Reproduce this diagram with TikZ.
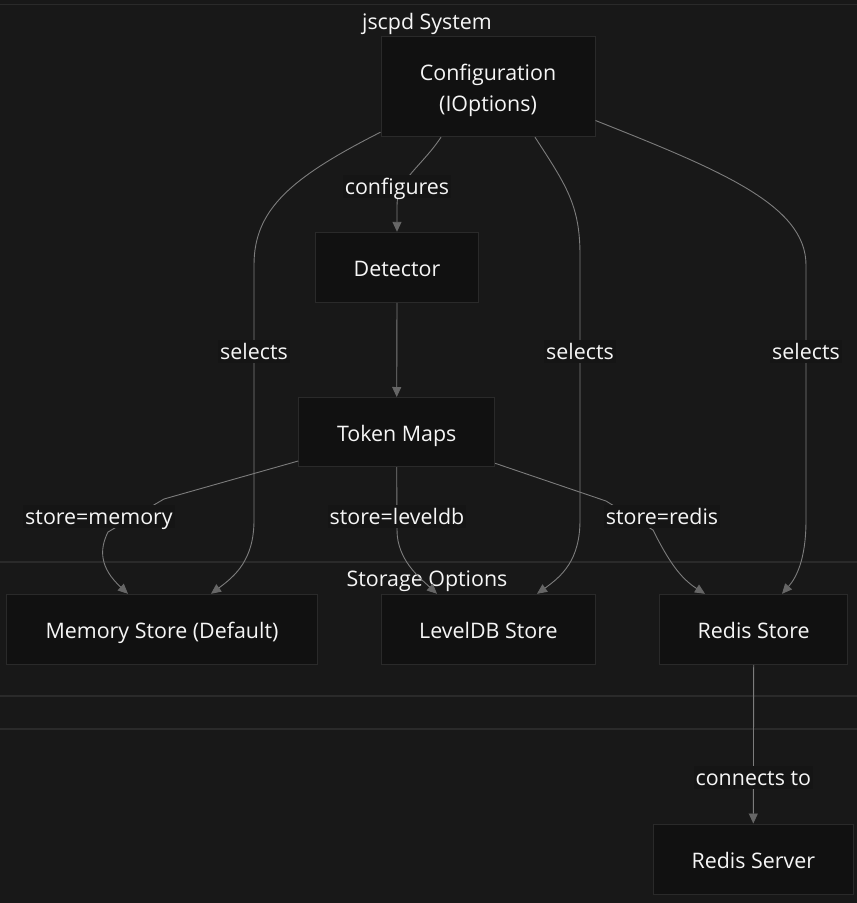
\documentclass[tikz,border=0pt]{standalone}
\usepackage{fontspec}
\setmainfont{Open Sans}
\usetikzlibrary{arrows.meta,calc}
\definecolor{bg}{HTML}{181818}
\definecolor{nodefill}{HTML}{111111}
\definecolor{nodeborder}{HTML}{2A2A2A}
\definecolor{clusterline}{HTML}{2A2A2A}
\definecolor{edgec}{HTML}{7C7C7C}
\definecolor{arrowc}{HTML}{666666}
\definecolor{txt}{HTML}{F6F6F6}
\definecolor{lblfill}{HTML}{151515}
\begin{document}
\begin{tikzpicture}[x=1pt,y=-1pt,
  box/.style={draw=nodeborder, fill=nodefill, line width=1pt, text=txt,
    font=\fontsize{21.4}{31}\selectfont, inner sep=0pt, align=center,
    text height=20pt, text depth=1pt},
  lbl/.style={fill=lblfill, text=txt, font=\fontsize{21.4}{24}\selectfont, inner sep=2pt,
    text height=18pt, text depth=1pt},
  ctitle/.style={text=txt, font=\fontsize{21.4}{24}\selectfont, inner sep=0pt},
  edge/.style={draw=edgec, line width=0.9pt, -{Triangle[length=10pt,width=9pt,color=arrowc]}},
  cline/.style={draw=clusterline, line width=1.2pt}]
\fill[bg] (0,0) rectangle (857,903);
\useasboundingbox (0,0) rectangle (857,903);
% cluster borders
\draw[cline] (0,4.3) -- (857,4.3);
\draw[cline] (0,562) -- (857,562);
\draw[cline] (0,696) -- (857,696);
\draw[cline] (0,729) -- (857,729);
% cluster titles
\node[ctitle] (tsys) at (427,23.5) {jscpd System};
\node[ctitle] (tsto) at (427,581.5) {Storage Options};
% nodes
\node[box, minimum width=214pt, minimum height=100pt, text height=51pt] (cfg) at (488,86.7) {Configuration\\(IOptions)};
\node[box, minimum width=163pt, minimum height=70pt] (det) at (397,267.3) {Detector};
\node[box, minimum width=196pt, minimum height=69pt] (tok) at (396.7,432) {Token Maps};
\node[box, minimum width=311pt, minimum height=70pt] (mem) at (162,629.3) {Memory Store (Default)};
\node[box, minimum width=214pt, minimum height=70pt] (lvl) at (488.4,629.3) {LevelDB Store};
\node[box, minimum width=188pt, minimum height=70pt] (rst) at (753.7,629.3) {Redis Store};
\node[box, minimum width=200pt, minimum height=70pt] (rsv) at (753.3,859) {Redis Server};
% edges
\draw[edge] ([xshift=-47pt]cfg.south) .. controls (422,166) and (397,180) .. (397,205) -- (det.north);
\draw[edge] (det.south) -- (tok.north);
\draw[edge] ([yshift=5pt]cfg.south west) .. controls (290,178) and (254,210) .. (254,265)
   -- (254,520) .. controls (254,560) and (235,576) .. ([xshift=49pt]mem.north);
\draw[edge] ([xshift=47pt]cfg.south) .. controls (566,185) and (580,205) .. (580,255)
   -- (580,520) .. controls (580,560) and (562,576) .. ([xshift=48.6pt]lvl.north);
\draw[edge] ([yshift=16.7pt]cfg.south east) .. controls (720,170) and (806,205) .. (806,265)
   -- (806,520) .. controls (806,560) and (796,578) .. ([xshift=28.3pt]rst.north);
\draw[edge] ([yshift=6pt]tok.south west) -- (164,499) -- (108,532)
   .. controls (99,550) and (100,568) .. ([xshift=-34pt]mem.north);
\draw[edge] (tok.south) -- (397,530) .. controls (397,560) and (420,578) .. ([xshift=-51.4pt]lvl.north);
\draw[edge] ([yshift=3.7pt]tok.south east) -- (606,501) -- (653,530)
   .. controls (668,560) and (680,578) .. ([xshift=-48.7pt]rst.north);
\draw[edge] (rst.south) -- (rsv.north);
% edge labels
\node[lbl] (lconf) at (397,186) {configures};
\node[lbl] (lsel1) at (254,351) {selects};
\node[lbl] (lsel2) at (580,351) {selects};
\node[lbl] (lsel3) at (806,351) {selects};
\node[lbl] (lmem) at (99,516) {store=memory};
\node[lbl] (llvl) at (397,516) {store=leveldb};
\node[lbl] (lred) at (662,516) {store=redis};
\node[lbl] (lcon) at (753.3,777) {connects to};
\end{tikzpicture}
\end{document}
